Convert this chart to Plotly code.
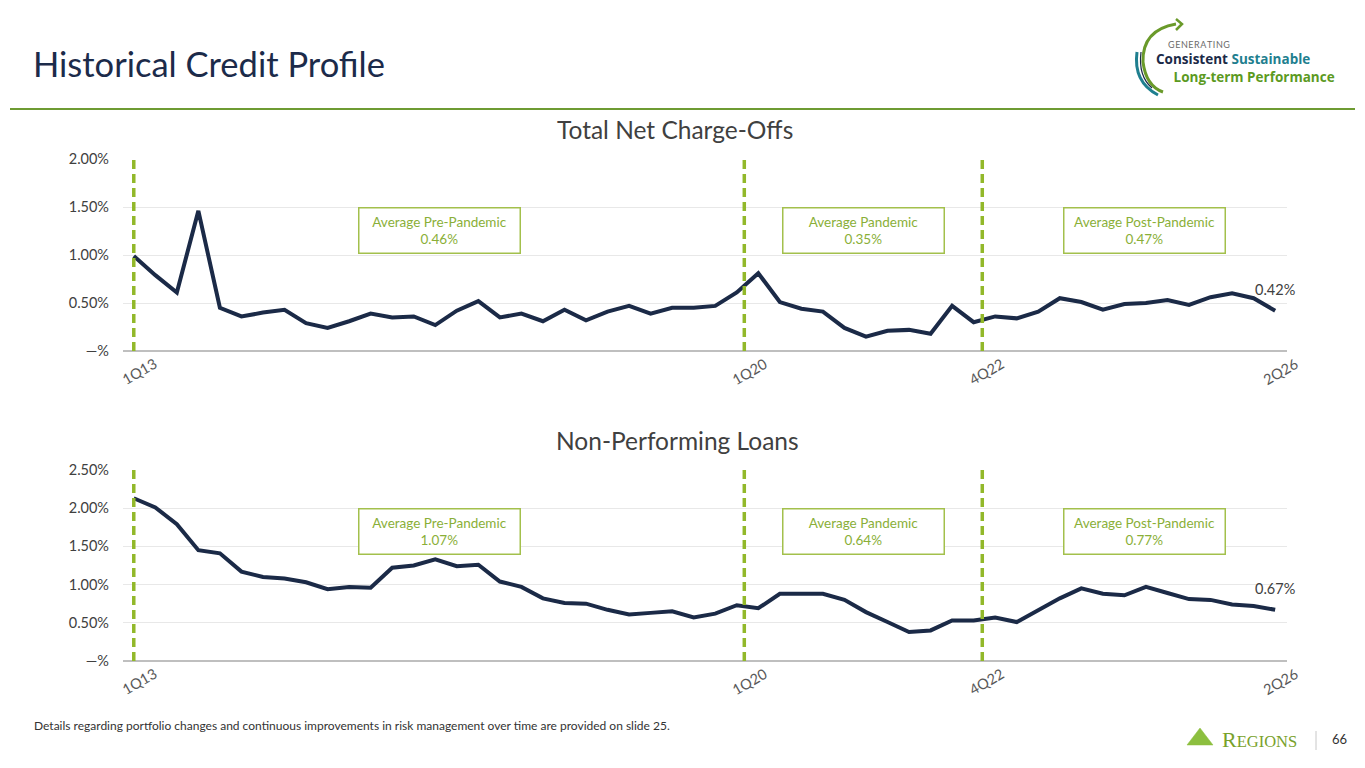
import plotly.graph_objects as go

# quarterly labels 1Q13 .. 2Q26
quarters = [f"{q}Q{y:02d}" for y in range(13, 27) for q in range(1, 5)][:54]

nco = [0.99, 0.79, 0.61, 1.46, 0.45, 0.36, 0.40, 0.43, 0.29, 0.24, 0.31, 0.39,
       0.35, 0.36, 0.27, 0.42, 0.52, 0.35, 0.39, 0.31, 0.43, 0.32, 0.41, 0.47,
       0.39, 0.45, 0.45, 0.47, 0.61, 0.81, 0.51, 0.44, 0.41, 0.24, 0.15, 0.21,
       0.22, 0.18, 0.47, 0.30, 0.36, 0.34, 0.41, 0.55, 0.51, 0.43, 0.49, 0.50,
       0.53, 0.48, 0.56, 0.60, 0.55, 0.42]

npl = [2.13, 2.01, 1.79, 1.45, 1.41, 1.17, 1.10, 1.08, 1.03, 0.94, 0.97, 0.96,
       1.22, 1.25, 1.33, 1.24, 1.26, 1.04, 0.97, 0.82, 0.76, 0.75, 0.67, 0.61,
       0.63, 0.65, 0.57, 0.62, 0.73, 0.69, 0.88, 0.88, 0.88, 0.80, 0.64, 0.51,
       0.38, 0.40, 0.53, 0.53, 0.57, 0.51, 0.66, 0.82, 0.95, 0.88, 0.86, 0.97,
       0.89, 0.81, 0.80, 0.74, 0.72, 0.67]

tick_labels = ["1Q13", "1Q20", "4Q22", "2Q26"]
period_starts = ["1Q13", "1Q20", "4Q22"]
period_names = ["Average Pre-Pandemic", "Average Pandemic", "Average Post-Pandemic"]
nco_avgs = ["0.46%", "0.35%", "0.47%"]
npl_avgs = ["1.07%", "0.64%", "0.77%"]

nco_ticks = [0, 0.5, 1.0, 1.5, 2.0]
nco_ticktext = ["\u2014%", "0.50%", "1.00%", "1.50%", "2.00%"]
npl_ticks = [0, 0.5, 1.0, 1.5, 2.0, 2.5]
npl_ticktext = ["\u2014%", "0.50%", "1.00%", "1.50%", "2.00%", "2.50%"]

W, H = 1365, 768
OFF = 8  # page body margin
FONT = "Lato"
NAVY = "#1b2a47"
GREEN_DASH = "#92b82a"
GREEN_BOX = "#a3c04c"
GREEN_TXT = "#8aaf38"
GRAY_TXT = "#404040"


def fx(x):
    return (x - OFF) / W


def fy(y):
    return 1 - (y - OFF) / H


def px(x, y):
    return f"{fx(x):.5f},{fy(y):.5f}"


def note(x, y, text, size, color="#333333", family=FONT, xanchor="center", **kw):
    return dict(x=fx(x), y=fy(y), xref="paper", yref="paper", text=text, showarrow=False,
                xanchor=xanchor, yanchor="middle",
                font=dict(family=family, size=size, color=color), **kw)


idx = list(range(len(quarters)))
fig = go.Figure()
fig.add_trace(go.Scatter(x=idx, y=nco, mode="lines", line=dict(color=NAVY, width=4),
                         xaxis="x", yaxis="y", hoverinfo="skip"))
fig.add_trace(go.Scatter(x=idx, y=npl, mode="lines", line=dict(color=NAVY, width=4),
                         xaxis="x2", yaxis="y2", hoverinfo="skip"))

xcommon = dict(range=[-0.5, 53.55], showgrid=False, zeroline=False, showticklabels=False,
               showline=False, domain=[fx(123), fx(1287)], fixedrange=True, automargin=False)
ycommon = dict(showgrid=True, gridcolor="#e8e8e8", gridwidth=1, zeroline=True,
               zerolinecolor="#bfbfbf", zerolinewidth=1.5, showline=False,
               tickfont=dict(family=FONT, size=14.5, color=GRAY_TXT), ticklabelstandoff=13,
               fixedrange=True, automargin=False)

fig.update_layout(
    width=W, height=H, margin=dict(l=0, r=0, t=0, b=0, pad=0, autoexpand=False),
    paper_bgcolor="white", plot_bgcolor="white", showlegend=False,
    xaxis=dict(**xcommon, anchor="y"),
    xaxis2=dict(**xcommon, anchor="y2"),
    yaxis=dict(**ycommon, range=[0, 2.0], tickvals=nco_ticks, ticktext=nco_ticktext,
               domain=[fy(351), fy(159)], anchor="x"),
    yaxis2=dict(**ycommon, range=[0, 2.5], tickvals=npl_ticks, ticktext=npl_ticktext,
                domain=[fy(661), fy(470)], anchor="x2"),
)

ann = []
shapes = []
break_shift = [0.0, 0.35, 0.4]

panels = [("x", "y", nco, nco_avgs, 2.02, 0.63), ("x2", "y2", npl, npl_avgs, 2.52, 0.68)]
for xa, ya, series, avgs, top, box_y in panels:
    breaks = [quarters.index(p) + sh for p, sh in zip(period_starts, break_shift)]
    # tick labels rotated under the axis
    for lab in tick_labels:
        shift = 0.6 if lab in period_starts[1:] else 0.25
        ann.append(dict(x=quarters.index(lab) + shift, y=0, xref=xa, yref=f"{ya} domain",
                        text=lab, showarrow=False, textangle=-30, xanchor="center",
                        yanchor="top", yshift=-1,
                        font=dict(family=FONT, size=14.5, color="#595959")))
    # dashed period separators
    for b in breaks:
        shapes.append(dict(type="line", xref=xa, yref=ya, x0=b, x1=b, y0=0, y1=top,
                           line=dict(color=GREEN_DASH, width=3.5, dash="9px,5px")))
    # average boxes, centred between the separators
    edges = breaks + [len(quarters) + 0.5]
    for name, avg, s, e in zip(period_names, avgs, edges[:-1], edges[1:]):
        ann.append(dict(x=(s + e) / 2, y=box_y, xref=xa, yref=f"{ya} domain",
                        text=f"{name}<br>{avg}", showarrow=False, align="center",
                        xanchor="center", yanchor="middle",
                        width=154, height=38, borderpad=3, bgcolor="white",
                        bordercolor=GREEN_BOX, borderwidth=1.5,
                        font=dict(family=FONT, size=13.5, color=GREEN_TXT)))
    # last value label
    ann.append(dict(x=idx[-1], y=series[-1], xref=xa, yref=ya, text=f"{series[-1]:.2f}%",
                    showarrow=False, yshift=21, xshift=0,
                    font=dict(family=FONT, size=14.5, color=GRAY_TXT)))

# chart titles
ann.append(note(675, 130, "Total Net Charge-Offs", 24.5, GRAY_TXT))
ann.append(note(677, 440, "Non-Performing Loans", 24.5, GRAY_TXT))

# slide title and rule
ann.append(note(31, 63, "Historical Credit Profile", 34.5, "#1c2b4a", xanchor="left"))
shapes.append(dict(type="line", xref="paper", yref="paper", x0=fx(10), x1=fx(1355),
                   y0=fy(109), y1=fy(109), line=dict(color="#6e9b32", width=2)))

# top-right logo
shapes.append(dict(type="path", xref="paper", yref="paper",
                   path=f"M{px(1176, 24)} Q{px(1142, 30)} {px(1143, 62)} Q{px(1146, 86)} {px(1163, 92)}",
                   line=dict(color="#6a9a2a", width=3)))
shapes.append(dict(type="path", xref="paper", yref="paper",
                   path=f"M{px(1176, 19)} L{px(1182, 24)} L{px(1176, 30)}",
                   line=dict(color="#6a9a2a", width=2.5)))
shapes.append(dict(type="path", xref="paper", yref="paper",
                   path=f"M{px(1137, 52)} Q{px(1133, 82)} {px(1158, 95)}",
                   line=dict(color="#1f7f8f", width=3)))
shapes.append(dict(type="path", xref="paper", yref="paper",
                   path=f"M{px(1141, 52)} Q{px(1138, 76)} {px(1152, 88)}",
                   line=dict(color=NAVY, width=1.2)))
ann.append(note(1166, 44, "\u200a".join("GENERATING"), 9, "#6b6b6b", xanchor="left"))
ann.append(note(1154, 67.5,
                "<b><span style='color:#1b2a47'>Consistent</span> "
                "<span style='color:#1f7f8f'>Sustainable</span><br>"
                "\u00a0\u00a0\u00a0\u00a0\u00a0<span style='color:#5c9a1f'>Long-term Performance</span></b>",
                13.5, family="Open Sans", xanchor="left", align="left"))

# footer
ann.append(note(32, 725, "Details regarding portfolio changes and continuous improvements in risk "
                "management over time are provided on slide 25.", 12, xanchor="left"))
shapes.append(dict(type="path", xref="paper", yref="paper",
                   path=f"M{px(1187, 745)} L{px(1200, 728)} L{px(1213, 745)} Z",
                   fillcolor="#8cbf3f", line=dict(color="#8cbf3f", width=0.5)))
ann.append(note(1220, 739, "R<span style='font-size:16.5px'>EGIONS</span>", 22,
                "#78a12a", family="Liberation Serif", xanchor="left"))
shapes.append(dict(type="line", xref="paper", yref="paper", x0=fx(1316), x1=fx(1316),
                   y0=fy(731), y1=fy(750), line=dict(color="#c8c8c8", width=1)))
ann.append(note(1339, 739, "66", 13))

fig.update_layout(annotations=ann, shapes=shapes)
fig.write_html("out.html")
